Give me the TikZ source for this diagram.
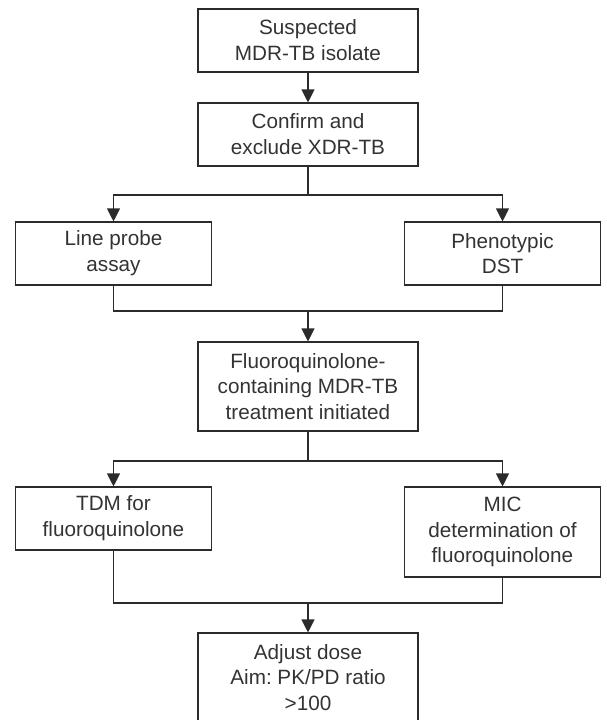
\documentclass[tikz,border=0pt]{standalone}
\usepackage{fontspec}
\setmainfont{Liberation Sans}
\frenchspacing
\usetikzlibrary{arrows.meta}
\definecolor{ink}{HTML}{2B2B2B}
\definecolor{txt}{HTML}{333333}
\tikzset{
  box/.style={draw=ink, line width=1.1pt, text=txt, align=center, inner sep=2pt,
    minimum width=#1, minimum height=63pt, font=\fontsize{20.7}{25.8}\selectfont},
  box/.default=220pt,
  conn/.style={draw=ink, line width=1.1pt},
  arr/.style={conn, -{Triangle[width=13pt,length=13pt]}}
}
\begin{document}
\begin{tikzpicture}[x=1pt,y=-1pt]
\useasboundingbox (0,0) rectangle (606,720);
\node[box] (b1) at (308,40.5) {Suspected\\MDR-TB isolate};
\node[box] (b2) at (308,134.5) {Confirm and\\exclude XDR-TB};
\node[box=196pt] (lp) at (113.5,253.5) {Line probe\\assay};
\node[box=196pt] (ph) at (502.5,253.5) {Phenotypic\\DST};
\node[box, minimum height=89pt] (b4) at (308,386.5) {Fluoroquinolone-\\containing MDR-TB\\treatment initiated};
\node[box=196pt] (tdm) at (113.5,518.5) {TDM for\\fluoroquinolone};
\node[box=196pt, minimum height=90pt] (mic) at (502.5,532) {MIC\\determination of\\fluoroquinolone};
\node[box, minimum height=89pt] (b7) at (308,677.5) {Adjust dose\\Aim: PK/PD ratio\\>100};
\coordinate (j1) at (308,195);
\coordinate (j2) at (308,311);
\coordinate (j3) at (308,461);
\coordinate (j4) at (308,603);
\draw[arr] (b1) -- (b2);
\draw[conn] (b2) -- (j1);
\draw[arr] (j1) -| (lp);
\draw[arr] (j1) -| (ph);
\draw[conn] (lp) |- (j2);
\draw[conn] (ph) |- (j2);
\draw[arr] (j2) -- (b4);
\draw[conn] (b4) -- (j3);
\draw[arr] (j3) -| (tdm);
\draw[arr] (j3) -| (mic);
\draw[conn] (tdm) |- (j4);
\draw[conn] (mic) |- (j4);
\draw[arr] (j4) -- (b7);
\end{tikzpicture}
\end{document}
